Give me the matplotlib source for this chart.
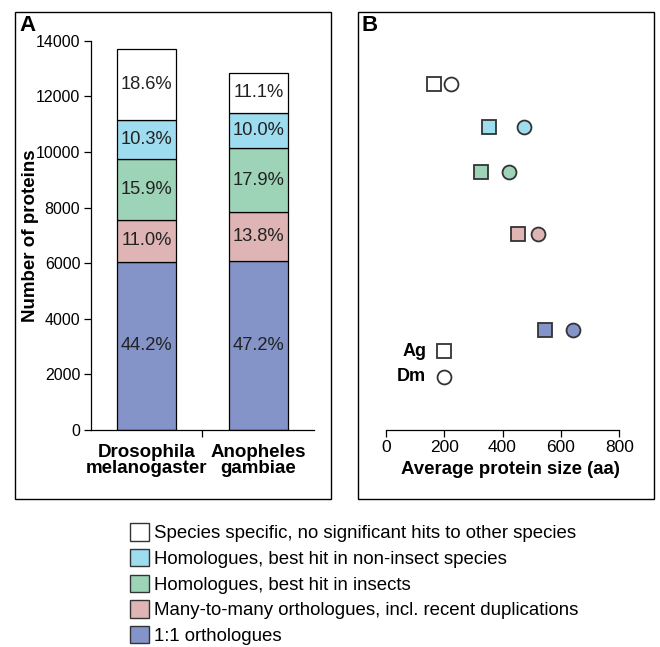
import matplotlib
matplotlib.use("Agg")
import matplotlib.pyplot as plt
from matplotlib.patches import Rectangle, Patch
import numpy as np

plt.rcParams["font.family"] = ["Liberation Sans", "DejaVu Sans"]

# panel A data (bottom -> top)
species = ["Drosophila\nmelanogaster", "Anopheles\ngambiae"]
totals = [13700, 12840]
pct_dm = [44.2, 11.0, 15.9, 10.3, 18.6]
pct_ag = [47.2, 13.8, 17.9, 10.0, 11.1]

categories = [
    "1:1 orthologues",
    "Many-to-many orthologues, incl. recent duplications",
    "Homologues, best hit in insects",
    "Homologues, best hit in non-insect species",
    "Species specific, no significant hits to other species",
]
colors = ["#8594c8", "#deb4b4", "#9dd4b7", "#9edcf0", "#ffffff"]

# panel B data: average protein size (aa), same category order
size_ag = [546, 453, 327, 355, 165]
size_dm = [640, 520, 423, 473, 222]
row_y = [3590, 7035, 9272, 10887, 12455]

fig = plt.figure(figsize=(6.6, 6.47), dpi=100)

# panel frames
fig.patches.append(Rectangle((0.0227, 0.2287), 0.4788, 0.7527, transform=fig.transFigure,
                             fill=False, ec="black", lw=1.0))
fig.patches.append(Rectangle((0.5417, 0.2287), 0.4492, 0.7527, transform=fig.transFigure,
                             fill=False, ec="black", lw=1.0))
fig.text(0.029, 0.961, "A", fontsize=16, fontweight="bold", ha="left", va="center")
fig.text(0.548, 0.961, "B", fontsize=16, fontweight="bold", ha="left", va="center")

# --- panel A ---
axA = fig.add_axes([0.1374, 0.3354, 0.3388, 0.6017])
x = np.arange(len(species))
for i, pcts in enumerate([pct_dm, pct_ag]):
    bottom = 0
    for p, c in zip(pcts, colors):
        h = totals[i] * p / 100
        axA.bar(x[i], h, bottom=bottom, width=0.53, color=c, edgecolor="black", linewidth=0.9)
        axA.text(x[i], bottom + h / 2, f"{p:.1f}%", ha="center", va="center",
                 fontsize=13.2, color="#222222")
        bottom += h

axA.set_xlim(-0.5, 1.5)
axA.set_ylim(0, 14000)
axA.set_yticks(np.arange(0, 14001, 2000))
axA.tick_params(axis="y", labelsize=11.5, length=5, width=0.9, pad=2.5)
axA.set_xticks([0.5])
axA.set_xticklabels([""])
axA.tick_params(axis="x", which="major", length=5, width=0.9)
axA.set_xticks(x, minor=True)
axA.set_xticklabels(species, minor=True, fontsize=13.5, fontweight="bold", linespacing=0.95)
axA.tick_params(axis="x", which="minor", length=0, pad=10)
for s in ["top", "right"]:
    axA.spines[s].set_visible(False)
axA.spines["left"].set_linewidth(0.9)
axA.spines["bottom"].set_linewidth(0.9)
axA.set_ylabel("Number of proteins", fontsize=13.5, fontweight="bold")
axA.yaxis.set_label_coords(-0.232, 0.5)

# --- panel B ---
axB = fig.add_axes([0.5844, 0.3354, 0.3541, 0.6017])
for i in range(len(categories)):
    axB.plot(size_ag[i], row_y[i], marker="s", ms=9.5, mfc=colors[i], mec="#333333",
             mew=1.3, ls="none")
    axB.plot(size_dm[i], row_y[i], marker="o", ms=10, mfc=colors[i], mec="#333333",
             mew=1.3, ls="none")

# species key
axB.plot(200, 2836, marker="s", ms=9.5, mfc="white", mec="#333333", mew=1.3, ls="none")
axB.plot(200, 1913, marker="o", ms=10, mfc="white", mec="#333333", mew=1.3, ls="none")
axB.annotate("Ag", xy=(200, 2836), xytext=(-13, 0), textcoords="offset points",
             ha="right", va="center", fontsize=13, fontweight="bold")
axB.annotate("Dm", xy=(200, 1913), xytext=(-13, 0), textcoords="offset points",
             ha="right", va="center", fontsize=13, fontweight="bold")

axB.set_xlim(0, 800)
axB.set_ylim(0, 14000)
axB.set_xticks(np.arange(0, 801, 200))
axB.tick_params(axis="x", labelsize=12.5, length=5, width=0.9, pad=2.5)
axB.set_yticks([])
for s in ["top", "right", "left"]:
    axB.spines[s].set_visible(False)
axB.spines["bottom"].set_linewidth(0.9)
axB.set_xlabel("Average protein size (aa)", fontsize=13.4, fontweight="bold")
axB.xaxis.set_label_coords(0.535, -0.079)

# --- legend ---
handles = [Patch(facecolor=c, edgecolor="#333333", linewidth=1.0) for c in colors[::-1]]
fig.legend(handles, categories[::-1], loc="upper left", bbox_to_anchor=(0.197, 0.191),
           frameon=False, fontsize=13.4, handlelength=1.0, handleheight=1.05,
           handletextpad=0.27, labelspacing=0.36, borderpad=0, borderaxespad=0)

fig.savefig("out.png", dpi=100)
